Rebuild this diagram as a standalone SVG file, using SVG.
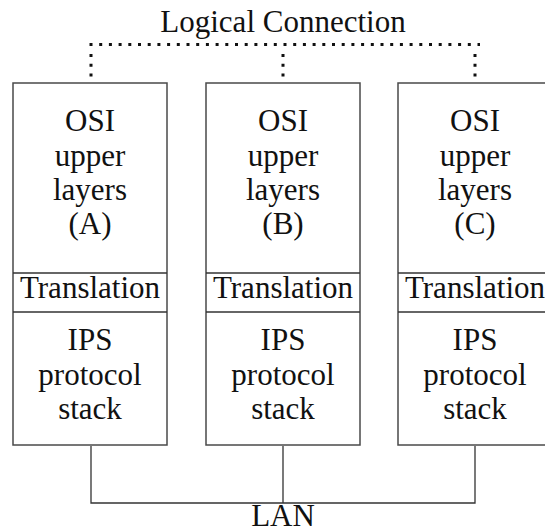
<svg xmlns="http://www.w3.org/2000/svg" width="545" height="531" viewBox="0 0 545 531">
  <style>
    .box { fill: #ffffff; stroke: #4a4a4a; stroke-width: 1.5; }
    .sep { stroke: #333333; stroke-width: 1.3; }
    .wire { fill: none; stroke: #333333; stroke-width: 1.3; }
    .dots { fill: none; stroke: #111111; stroke-width: 3; stroke-dasharray: 3 6.7; }
    text { font-family: "Liberation Serif", "Times New Roman", serif; font-size: 31px; fill: #111111; text-anchor: middle; }
  </style>
  <rect width="545" height="531" fill="#ffffff"/>

  <!-- title above the dotted logical link -->
  <text id="title" x="283" y="32">Logical Connection</text>

  <!-- dotted logical link on top, LAN bus below -->
  <g id="connectors">
    <path class="dots" d="M 89.5 44.5 H 480"/>
    <path class="dots" d="M 91 54 V 86"/>
    <path class="dots" d="M 283 54 V 86"/>
    <path class="dots" d="M 475 54 V 86"/>
    <path class="wire" d="M 91 446 V 503 H 475 V 446 M 283 446 V 503"/>
  </g>

  <!-- host A -->
  <g id="hostA">
    <rect class="box" x="13" y="83" width="154" height="362"/>
    <line class="sep" x1="13" y1="273" x2="167" y2="273"/>
    <line class="sep" x1="13" y1="312" x2="167" y2="312"/>
    <text x="90" y="131">OSI</text>
    <text x="90" y="166">upper</text>
    <text x="90" y="200">layers</text>
    <text x="90" y="234">(A)</text>
    <text x="90" y="298">Translation</text>
    <text x="90" y="350">IPS</text>
    <text x="90" y="385">protocol</text>
    <text x="90" y="419">stack</text>
  </g>

  <!-- host B -->
  <g id="hostB">
    <rect class="box" x="206" y="83" width="154" height="362"/>
    <line class="sep" x1="206" y1="273" x2="360" y2="273"/>
    <line class="sep" x1="206" y1="312" x2="360" y2="312"/>
    <text x="283" y="131">OSI</text>
    <text x="283" y="166">upper</text>
    <text x="283" y="200">layers</text>
    <text x="283" y="234">(B)</text>
    <text x="283" y="298">Translation</text>
    <text x="283" y="350">IPS</text>
    <text x="283" y="385">protocol</text>
    <text x="283" y="419">stack</text>
  </g>

  <!-- host C (runs off the right edge) -->
  <g id="hostC">
    <rect class="box" x="398" y="83" width="154" height="362"/>
    <line class="sep" x1="398" y1="273" x2="552" y2="273"/>
    <line class="sep" x1="398" y1="312" x2="552" y2="312"/>
    <text x="475" y="131">OSI</text>
    <text x="475" y="166">upper</text>
    <text x="475" y="200">layers</text>
    <text x="475" y="234">(C)</text>
    <text x="475" y="298">Translation</text>
    <text x="475" y="350">IPS</text>
    <text x="475" y="385">protocol</text>
    <text x="475" y="419">stack</text>
  </g>

  <text id="lan" x="283" y="526">LAN</text>
</svg>
